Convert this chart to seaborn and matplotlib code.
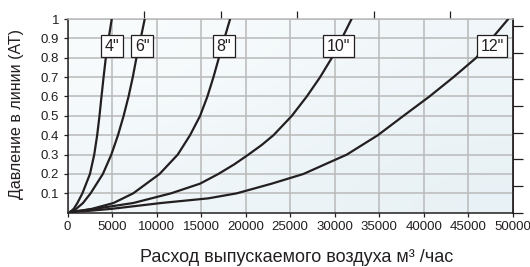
import numpy as np
import pandas as pd
import matplotlib
matplotlib.use('Agg')
import matplotlib.pyplot as plt
import seaborn as sns

# данные: расход (м3/час) и давление (АТ)
q_4 = [300, 700, 1110, 1670, 2520, 3000, 3330, 3590, 3815, 4050, 4300, 4620, 4966]
p_4 = [0.004, 0.02, 0.05, 0.1, 0.2, 0.3, 0.4, 0.5, 0.6, 0.7, 0.8, 0.9, 1.0]

q_6 = [300, 850, 1740, 2590, 3970, 4920, 5667, 6300, 6855, 7330, 7740, 8220, 8670]
p_6 = [0.004, 0.015, 0.05, 0.1, 0.2, 0.3, 0.4, 0.5, 0.6, 0.7, 0.8, 0.9, 1.0]

q_8 = [300, 1500, 2750, 5160, 7380, 10340, 12380, 13760, 14890, 15710, 16390, 17000, 17620, 18260]
p_8 = [0.004, 0.01, 0.02, 0.05, 0.1, 0.2, 0.3, 0.4, 0.5, 0.6, 0.7, 0.8, 0.9, 1.0]

q_10 = [300, 3080, 7380, 11630, 14890, 16940, 18740, 20320, 21820, 23130, 25190, 26870, 28370, 29690, 30810, 31900]
p_10 = [0.004, 0.02, 0.05, 0.1, 0.15, 0.2, 0.25, 0.3, 0.35, 0.4, 0.5, 0.6, 0.7, 0.8, 0.9, 1.0]

q_12 = [300, 2500, 4970, 10520, 15800, 19010, 22940, 26500, 28930, 31370, 34850, 37730, 40650, 43350, 45900, 47660, 49500]
p_12 = [0.004, 0.01, 0.02, 0.05, 0.074, 0.1, 0.15, 0.2, 0.25, 0.3, 0.4, 0.5, 0.6, 0.7, 0.8, 0.9, 1.0]

sizes = ['4"', '6"', '8"', '10"', '12"']
label_q = [5030, 8390, 17570, 30450, 47660]
label_p = [0.86, 0.86, 0.86, 0.86, 0.86]

x_ticks = list(range(0, 50001, 5000))
y_ticks = [0.1, 0.2, 0.3, 0.4, 0.5, 0.6, 0.7, 0.8, 0.9, 1.0]
y_ticklabels = ['0.1', '0.2', '0.3', '0.4', '0.5', '0.6', '0.7', '0.8', '0.9', '1']
top_ticks = [8600, 17200, 25800, 34400, 43000]
right_ticks = [0.0, 0.1378, 0.2756, 0.4134, 0.5512, 0.689, 0.8268, 0.9646]

rows = []
for name, qs, ps in zip(sizes, [q_4, q_6, q_8, q_10, q_12], [p_4, p_6, p_8, p_10, p_12]):
    for q, p in zip(qs, ps):
        rows.append({'size': name, 'q': q, 'p': p})
df = pd.DataFrame(rows)

sns.set_theme(style='white')
plt.rcParams['font.family'] = ['Liberation Sans Narrow', 'Liberation Sans', 'DejaVu Sans']

fig = plt.figure(figsize=(5.3, 2.67), dpi=100)
ax = fig.add_axes([0.1274, 0.2034, 0.84, 0.7254])

# светлый градиентный фон
grad = np.array([[0.0, 0.5], [0.5, 1.0]])
cmap = matplotlib.colors.LinearSegmentedColormap.from_list('bg', ['#f9fcfd', '#e8f1f5'])
ax.imshow(grad, extent=[0, 50000, 0, 1], aspect='auto', cmap=cmap,
          interpolation='bicubic', zorder=0, origin='upper')

sns.lineplot(data=df, x='q', y='p', hue='size', palette=['#231f20'] * 5,
             sort=False, estimator=None, linewidth=1.6, legend=False, ax=ax, zorder=3)
ax.set_xlabel('')
ax.set_ylabel('')

for name, lq, lp in zip(sizes, label_q, label_p):
    ax.text(lq, lp, name, ha='center', va='center', fontsize=11.5, color='#231f20', zorder=5,
            bbox=dict(boxstyle='square,pad=0.22', facecolor='white', edgecolor='#231f20', linewidth=0.9))

ax.set_xlim(0, 50000)
ax.set_ylim(0, 1)
ax.set_xticks(x_ticks)
ax.set_xticklabels([str(t) for t in x_ticks], fontsize=9.5, color='#231f20')
ax.set_yticks(y_ticks)
ax.set_yticklabels(y_ticklabels, fontsize=9.5, color='#231f20')
ax.grid(True, color='#b9b9b9', linewidth=1.1, zorder=1)
ax.set_axisbelow(True)
ax.tick_params(axis='both', which='major', length=3, width=0.9, color='#231f20',
               pad=3, bottom=True, left=True, direction='out')

for s in ['left', 'bottom', 'right']:
    ax.spines[s].set_color('#231f20')
    ax.spines[s].set_linewidth(1.1)
ax.spines['top'].set_color('#b9b9b9')
ax.spines['top'].set_linewidth(1.1)

top = ax.secondary_xaxis('top')
top.set_xticks(top_ticks)
top.set_xticklabels([])
top.tick_params(length=6, width=0.9, color='#231f20', direction='out')
top.spines['top'].set_visible(False)

right = ax.secondary_yaxis('right')
right.set_yticks(right_ticks)
right.set_yticklabels([])
right.tick_params(length=7, width=0.9, color='#231f20', direction='out')
right.spines['right'].set_color('#231f20')

fig.text(0.032, 0.5725, 'Давление в линии (АТ)', rotation=90, ha='center', va='center',
         fontsize=11.5, color='#231f20', family=['Liberation Sans', 'DejaVu Sans'])
fig.text(0.559, 0.034, 'Расход выпускаемого воздуха м³ /час', ha='center', va='center',
         fontsize=13, color='#231f20', family=['Liberation Sans', 'DejaVu Sans'])

fig.savefig('out.png', dpi=100)
